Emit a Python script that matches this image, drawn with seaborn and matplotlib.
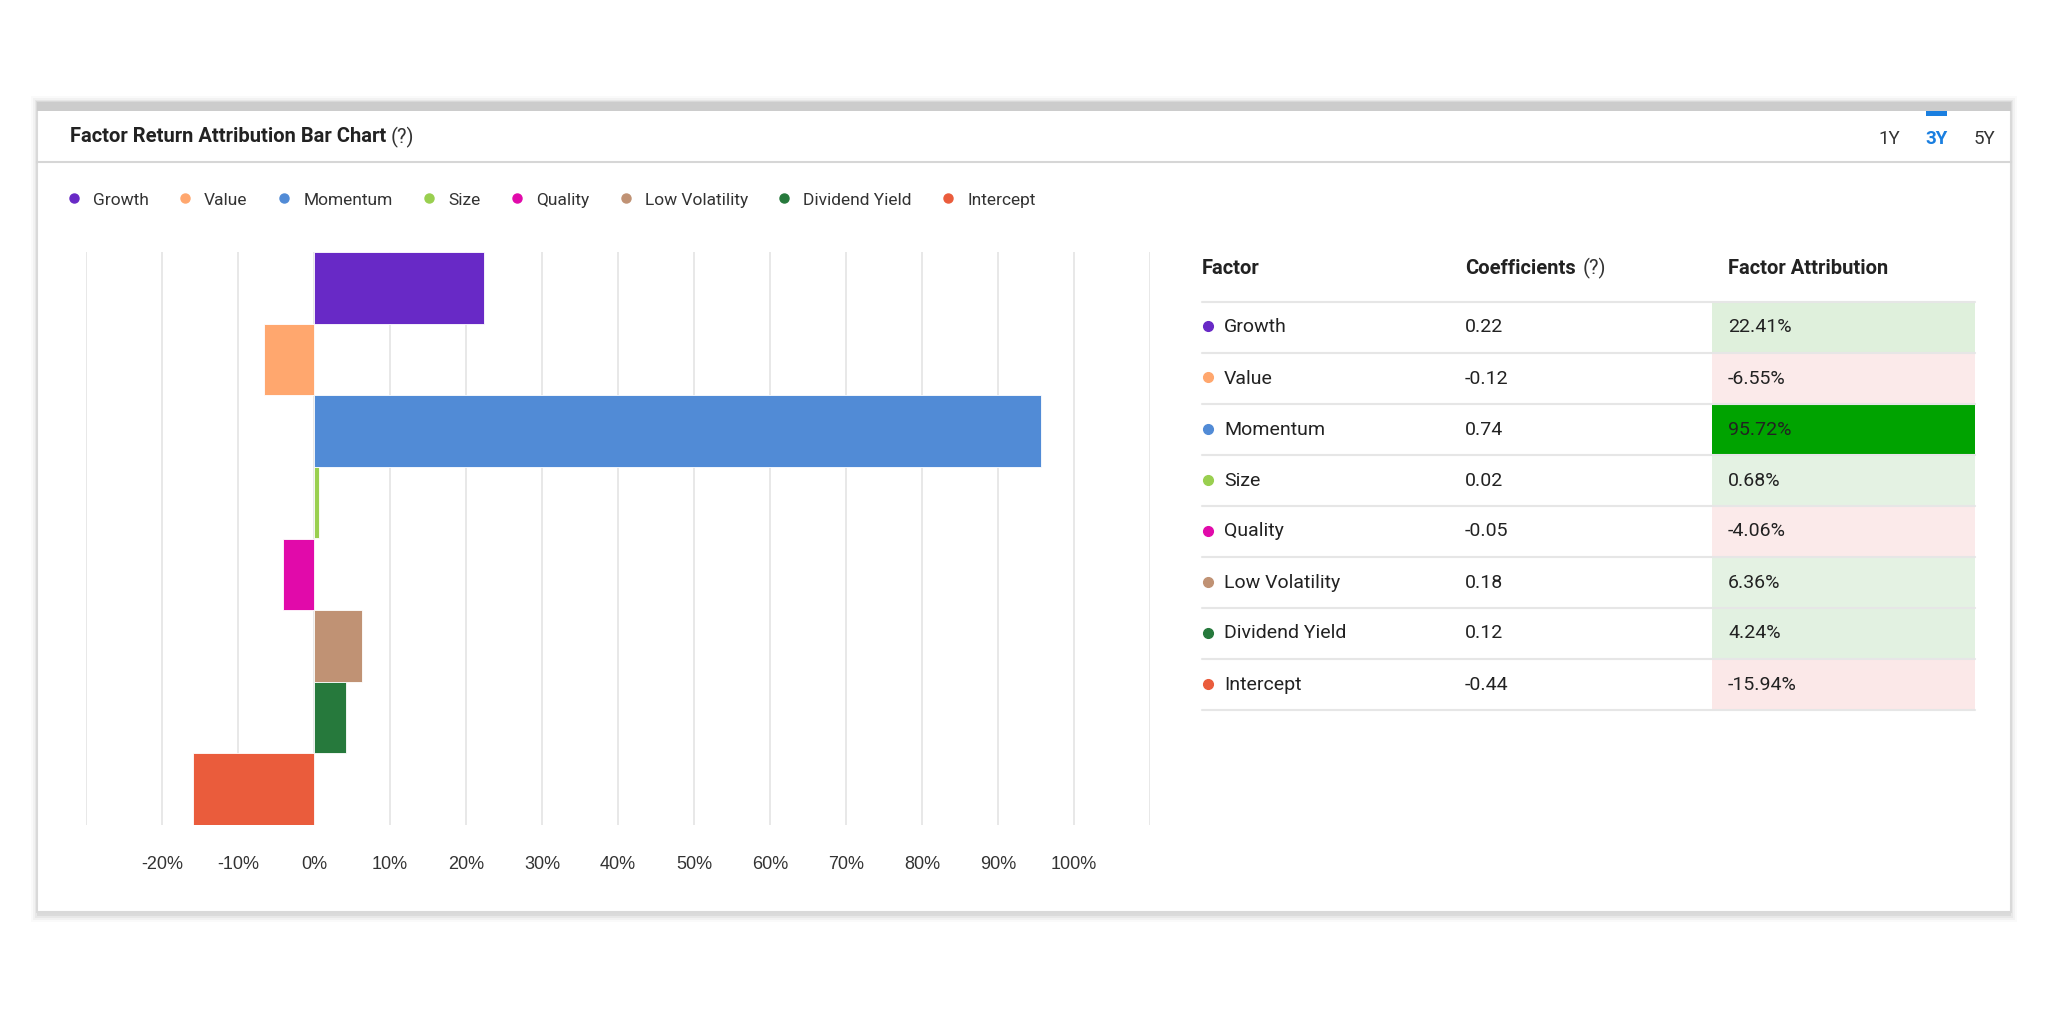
import matplotlib
matplotlib.use("Agg")
import matplotlib.pyplot as plt
import matplotlib.patches as mpatches
from matplotlib.lines import Line2D
import seaborn as sns
import pandas as pd

# Data
factors = ['Growth', 'Value', 'Momentum', 'Size', 'Quality', 'Low Volatility', 'Dividend Yield', 'Intercept']
coefficients = ['0.22', '-0.12', '0.74', '0.02', '-0.05', '0.18', '0.12', '-0.44']
attribution = [22.41, -6.55, 95.72, 0.68, -4.06, 6.36, 4.24, -15.94]
colors = ['#6829c6', '#ffa76e', '#518bd6', '#99cf4f', '#e10aaa', '#c09274', '#26793c', '#ea5c3c']
cell_colors = ['#dff0dc', '#fbeaea', '#00a300', '#e4f2e3', '#fbeaea', '#e4f2e3', '#e2f1e1', '#fbe8e8']
periods = ['1Y', '3Y', '5Y']
xticks = list(range(-30, 111, 10))

W, H = 2048, 1013
FONT = ['Roboto', 'DejaVu Sans']


def fx(x):
    return x / W


def fy(y):
    return 1 - y / H


sns.set_theme(style="white")
plt.rcParams['font.family'] = FONT

fig = plt.figure(figsize=(W / 100, H / 100), dpi=100)
fig.patch.set_facecolor('white')
renderer = fig.canvas.get_renderer()

# card with soft shadow
for i, a in enumerate([0.05, 0.04, 0.03, 0.02]):
    d = (i + 1) * 2
    fig.patches.append(mpatches.Rectangle((fx(37 - d + 2), fy(912 + d + 2)), fx(1974 + 2 * d - 4), (810 + 2 * d) / H,
                                          transform=fig.transFigure, facecolor='black', alpha=a,
                                          edgecolor='none', zorder=0))
fig.patches.append(mpatches.Rectangle((fx(37), fy(912)), fx(1974), 810 / H, transform=fig.transFigure,
                                      facecolor='white', edgecolor='#d9d9d9', lw=1.5, zorder=1))
fig.patches.append(mpatches.Rectangle((fx(37), fy(111)), fx(1974), 9 / H, transform=fig.transFigure,
                                      facecolor='#cccccc', edgecolor='none', zorder=2))
fig.lines.append(Line2D([fx(37), fx(2011)], [fy(162), fy(162)], transform=fig.transFigure,
                        color='#d6d6d6', lw=1.5, zorder=2))


def text_with_hint(x, y, s, size):
    t = fig.text(fx(x), fy(y), s, fontsize=size, fontweight='bold', color='#222222',
                 va='center', ha='left', zorder=3)
    bb = t.get_window_extent(renderer)
    fig.text(bb.x1 / W + fx(7), fy(y), '(?)', fontsize=size, color='#333333', va='center', ha='left', zorder=3)


# header
title = fig.text(fx(70), fy(137), 'Factor Return Attribution Bar Chart', fontsize=14.5,
                 fontweight='bold', color='#222222', va='center', ha='left', zorder=3)
bb = title.get_window_extent(renderer)
fig.text(bb.x1 / W + fx(4), fy(137), '(?)', fontsize=14.5, color='#333333', va='center', ha='left', zorder=3)

for p, x in zip(periods, [1889, 1937, 1984]):
    active = p == '3Y'
    fig.text(fx(x), fy(139), p, fontsize=13.5, color='#1a7fe0' if active else '#333333',
             fontweight='bold' if active else 'normal', va='center', ha='center', zorder=3)
fig.patches.append(mpatches.Rectangle((fx(1926), fy(116)), fx(21), 5 / H, transform=fig.transFigure,
                                      facecolor='#1a7fe0', edgecolor='none', zorder=3))

# bar chart
df = pd.DataFrame({'factor': factors, 'attribution': attribution})
ax = fig.add_axes([fx(86), fy(825), fx(1150 - 86), 573 / H])
ax.set_zorder(3)
ax.patch.set_alpha(0)
sns.barplot(data=df, y='factor', x='attribution', hue='factor', palette=dict(zip(factors, colors)),
            orient='h', width=1.0, dodge=False, legend=False, ax=ax, saturation=1,
            edgecolor='white', linewidth=0.6)
ax.set_xlim(-30, 110)
ax.set_ylim(len(factors) - 0.5, -0.5)
ax.set_xticks(xticks)
ax.set_xticklabels(['' if t in (xticks[0], xticks[-1]) else f'{t}%' for t in xticks])
ax.set_yticks([])
ax.set_xlabel('')
ax.set_ylabel('')
ax.grid(axis='x', color='#e6e6e6', lw=1.3)
ax.set_axisbelow(True)
for s in ax.spines.values():
    s.set_visible(False)
ax.tick_params(axis='x', length=0, pad=22, labelsize=13, labelcolor='#333333')
for lab in ax.get_xticklabels():
    lab.set_family(['Liberation Sans', 'DejaVu Sans'])

# legend
handles = [Line2D([0], [0], marker='o', ls='', markersize=6.5, markerfacecolor=c, markeredgecolor=c)
           for c in colors]
leg = fig.legend(handles, factors, loc='center left', bbox_to_anchor=(fx(65), fy(200)), ncol=len(factors),
                 frameon=False, handletextpad=0.6, columnspacing=1.6, handlelength=1.0,
                 borderpad=0, borderaxespad=0, prop={'size': 12.5})
for t in leg.get_texts():
    t.set_color('#333333')

# table
fig.text(fx(1202), fy(268), 'Factor', fontsize=14.5, fontweight='bold', color='#222222', va='center', zorder=3)
text_with_hint(1465, 268, 'Coefficients', 14.5)
fig.text(fx(1728), fy(268), 'Factor Attribution', fontsize=14.5, fontweight='bold',
         color='#222222', va='center', zorder=3)
top, rh = 302, 51
for i, (f, c, a) in enumerate(zip(factors, coefficients, attribution)):
    y0 = top + i * rh
    yc = y0 + rh / 2
    fig.patches.append(mpatches.Rectangle((fx(1712), fy(y0 + rh)), fx(1975 - 1712), rh / H,
                                          transform=fig.transFigure, facecolor=cell_colors[i],
                                          edgecolor='none', zorder=2))
    fig.lines.append(Line2D([fx(1202), fx(1975)], [fy(y0), fy(y0)], transform=fig.transFigure,
                            color='#e6e6e6', lw=1.5, zorder=3))
    fig.lines.append(Line2D([fx(1208)], [fy(yc - 1)], transform=fig.transFigure, marker='o', ls='',
                            markersize=7, color=colors[i], zorder=3))
    fig.text(fx(1224), fy(yc), f, fontsize=14, color='#222222', va='center', zorder=3)
    fig.text(fx(1465), fy(yc), c, fontsize=14, color='#222222', va='center', zorder=3)
    fig.text(fx(1728), fy(yc), f'{a:.2f}%', fontsize=14, color='#222222', va='center', zorder=3)
fig.lines.append(Line2D([fx(1202), fx(1975)], [fy(top + 8 * rh), fy(top + 8 * rh)], transform=fig.transFigure,
                        color='#e6e6e6', lw=1.5, zorder=3))

fig.savefig('out.png', dpi=100, facecolor='white')
